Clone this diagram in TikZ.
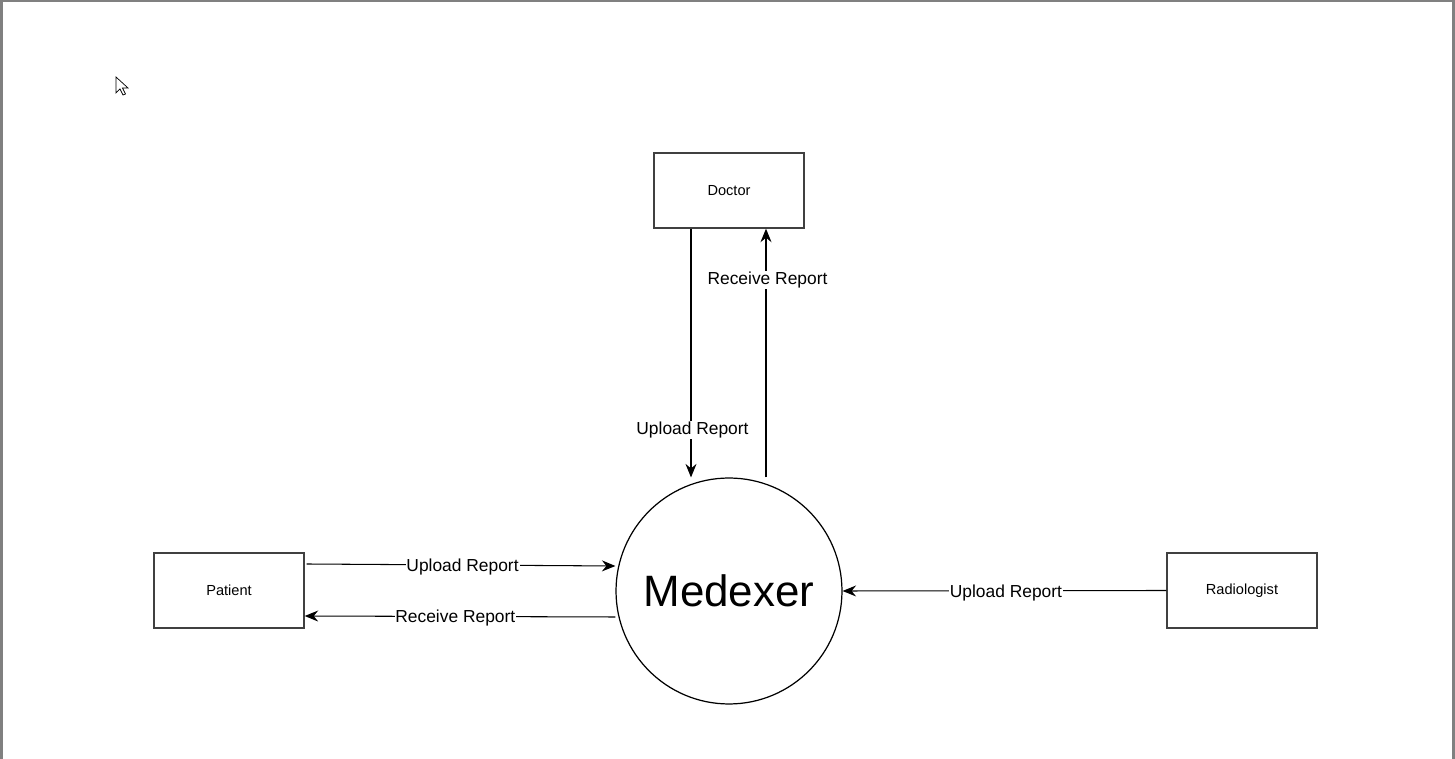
\documentclass[tikz,border=0pt]{standalone}
\usepackage{fontspec}
\setmainfont{Liberation Sans}
\usetikzlibrary{calc,arrows.meta}
\tikzset{
	entity/.style={draw=black!75, line width=0.8pt, minimum width=3cm, minimum height=1.5cm, inner sep=0pt, font=\fontsize{8.3}{10}\selectfont},
	process/.style={draw=black, line width=0.7pt, circle, minimum size=4.52cm, inner sep=0pt, font=\fontsize{25}{30}\selectfont},
	flow/.style={line width=0.6pt, -{Stealth[length=2.7mm, width=2.2mm, inset=0.9mm]}},
	flowlabel/.style={fill=white, inner sep=0.5pt, xshift=0.03cm, yshift=-0.04cm, font=\fontsize{9.9}{12}\selectfont}
}
\begin{document}
\begin{tikzpicture}[x=0.02cm, y=-0.02cm]
		%%%%% START %%%%%
		
		\useasboundingbox (0, 0) rectangle (1455, 759);
		\fill[white] (0, 0) rectangle (1455, 759);
		\fill[black!50] (0, 0) rectangle (3, 759);
		\fill[black!50] (0, 0) rectangle (1455, 2);
		\fill[black!50] (1452, 0) rectangle (1455, 759);
		
		\draw[fill=white, line width=0.4pt] (116, 77) -- (116, 93) -- (120, 89) -- (123, 95) -- (125.5, 94) -- (122.5, 88) -- (128, 88) -- cycle;
		
		\node[entity] (doc) at (729, 190.5) {Doctor};
		\node[entity] (pat) at (229, 590.5) {Patient};
		\node[entity] (rad) at (1242, 590.5) {Radiologist};
		\node[process] (med) at (729, 591) {Medexer};
		
		\draw[flow] ($(doc.south)+(-38, 0)$) -- node[flowlabel, pos=0.8] {Upload Report} ($(med.north)+(-38, 0)$);
		\draw[flow] ($(med.north)+(37, 0)$) -- node[flowlabel, pos=0.8] {Receive Report} ($(doc.south)+(37, 0)$);
		
		\draw[flow] ($(pat.east)+(2, -26.5)$) -- node[flowlabel, pos=0.5] {Upload Report} ($(med.west)+(0, -25)$);
		\draw[flow] ($(med.west)+(0, 26)$) -- node[flowlabel, pos=0.52] {Receive Report} ($(pat.east)+(0, 25.5)$);
		
		\draw[flow] (rad.west) -- node[flowlabel, pos=0.5] {Upload Report} (med.east);
		
		%%%%% END %%%%%
	\end{tikzpicture}
\end{document}
